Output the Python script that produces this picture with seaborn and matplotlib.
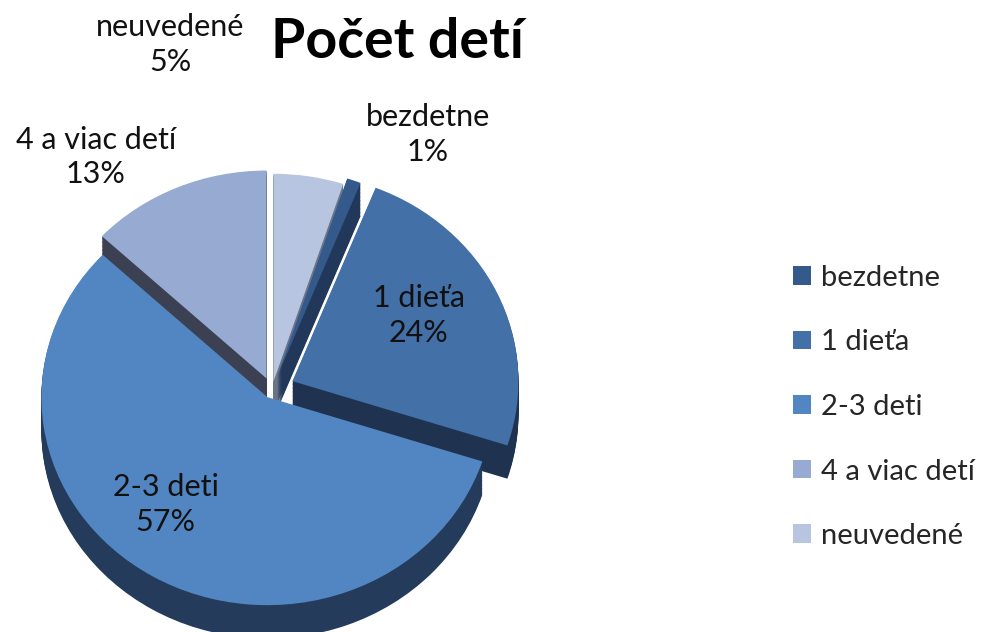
import numpy as np
import seaborn as sns
import matplotlib.pyplot as plt
from matplotlib.patches import Patch

# data
categories = ['bezdetne', '1 dieťa', '2-3 deti', '4 a viac detí', 'neuvedené']
shares = [1, 24, 57, 13, 5]
pct_labels = ['1%', '24%', '57%', '13%', '5%']

# styling / layout
top_colors = ['#345A8C', '#4470A8', '#5286C2', '#96AAD2', '#B8C5E0']
side_colors = ['#22385A', '#1F3350', '#243B5C', '#3B4152', '#6A7488']
explode = [0.07, 0.10, 0.04, 0.06, 0.04]
label_pos = [(0.69, 1.23), (0.65, 0.36), (-0.47, -0.55), (-0.78, 1.12), (-0.45, 1.66)]
depth = 0.16

# pixel geometry of the pie (center and radii)
cx, cy, rx, ry = 272, 390, 226, 208
W, H = 997, 632

sns.set_theme(style='white')
plt.rcParams['font.family'] = ['Lato', 'DejaVu Sans']

fig = plt.figure(figsize=(W / 100, H / 100), dpi=100)
ax = fig.add_axes([10 / W, 0, 560 / W, 1])

# fake 3D side: stack of darker pies shifted downward
for d in np.linspace(depth, 0.005, 25):
    ax.pie(shares, colors=side_colors, explode=explode, startangle=72,
           counterclock=False, center=(0, -d), radius=1,
           wedgeprops=dict(linewidth=0))
ax.pie(shares, colors=top_colors, explode=explode, startangle=72,
       counterclock=False, center=(0, 0), radius=1,
       wedgeprops=dict(linewidth=0))

ax.set_aspect('auto')
ax.set_xlim((10 - cx) / rx, (570 - cx) / rx)
ax.set_ylim(-(H - cy) / ry, cy / ry)
ax.axis('off')

for name, pct, (x, y) in zip(categories, pct_labels, label_pos):
    ax.text(x, y, f'{name}\n{pct}', ha='center', va='center',
            fontsize=22, color='#111111', linespacing=1.3)

fig.text(397 / W, 1 - 42 / H, 'Počet detí', ha='center', va='center',
         fontsize=40, fontweight='bold', color='black')

handles = [Patch(facecolor=c, edgecolor='none') for c in top_colors]
fig.legend(handles, categories, loc='center left',
           bbox_to_anchor=(767 / W, 1 - 407 / H), frameon=False,
           fontsize=21, handlelength=0.6, handleheight=0.6,
           labelspacing=1.32, handletextpad=0.35)

fig.savefig('out.png', dpi=100)
